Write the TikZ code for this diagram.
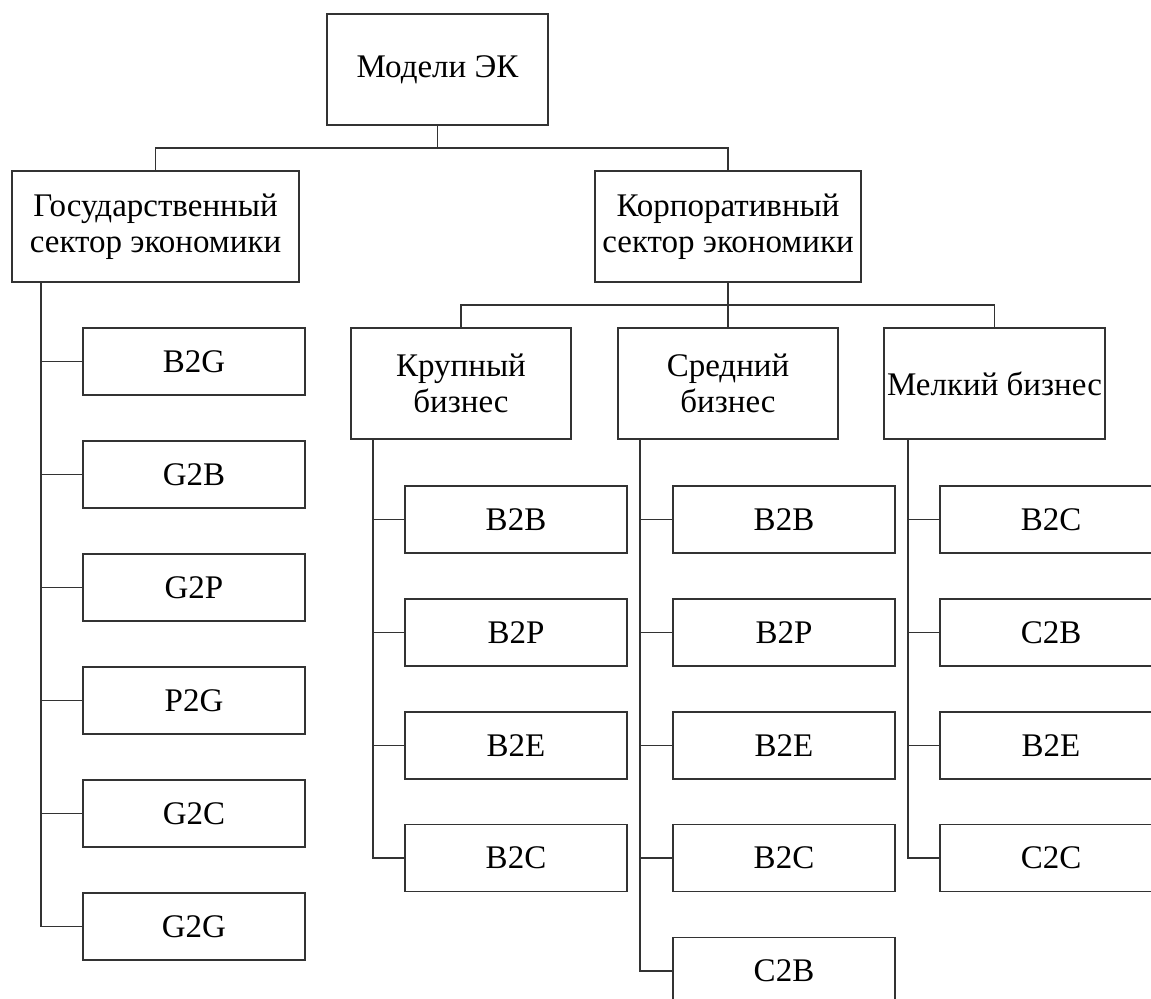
\documentclass[tikz,border=0pt]{standalone}
\usepackage{fontspec}
\setmainfont{Liberation Serif}
\begin{document}
\begin{tikzpicture}[x=0.5pt,y=-0.5pt,
  box/.style={draw=black!80,line width=0.9pt,fill=white,inner sep=0pt,align=center,
    font=\fontsize{16.5pt}{18pt}\selectfont},
  big/.style={box,minimum height=55.5pt},
  leaf/.style={box,minimum width=111pt,minimum height=33.5pt},
  conn/.style={draw=black!80,line width=0.9pt}]
\useasboundingbox (0,0) rectangle (1151,999);
\clip (0,0) rectangle (1151,999);
\fill[white] (0,0) rectangle (1151,999);
% main nodes
\node[big,minimum width=110.5pt] (root) at (437.5,69.5) {Модели ЭК};
\node[big,minimum width=143.5pt] (gov) at (155.5,226.5) {Государственный\\сектор экономики};
\node[big,minimum width=133pt] (corp) at (728,226.5) {Корпоративный\\сектор экономики};
\node[big,minimum width=110pt] (k) at (461,383.5) {Крупный\\бизнес};
\node[big,minimum width=110pt] (s) at (728,383.5) {Средний\\бизнес};
\node[big,minimum width=110.5pt] (m) at (994.5,383.5) {Мелкий бизнес};
% government children
\node[leaf] (g1) at (194,361.5) {B2G};
\node[leaf] (g2) at (194,474.5) {G2B};
\node[leaf] (g3) at (194,587.5) {G2P};
\node[leaf] (g4) at (194,700.5) {P2G};
\node[leaf] (g5) at (194,813.5) {G2C};
\node[leaf] (g6) at (194,926.5) {G2G};
% large business children
\node[leaf] (k1) at (516,519.5) {B2B};
\node[leaf] (k2) at (516,632.5) {B2P};
\node[leaf] (k3) at (516,745.5) {B2E};
\node[leaf] (k4) at (516,858) {B2C};
% medium business children
\node[leaf] (s1) at (784,519.5) {B2B};
\node[leaf] (s2) at (784,632.5) {B2P};
\node[leaf] (s3) at (784,745.5) {B2E};
\node[leaf] (s4) at (784,858) {B2C};
\node[leaf] (s5) at (784,971) {C2B};
% small business children
\node[leaf] (m1) at (1051,519.5) {B2C};
\node[leaf] (m2) at (1051,632.5) {C2B};
\node[leaf] (m3) at (1051,745.5) {B2E};
\node[leaf] (m4) at (1051,858) {C2C};
% connectors top
\coordinate (rb) at (437.5,148);
\draw[conn] (root.south) -- (rb);
\draw[conn] (rb) -| (gov.north);
\draw[conn] (rb) -| (corp.north);
\coordinate (cb) at (728,305);
\draw[conn] (corp.south) -- (cb);
\draw[conn] (cb) -| (k.north);
\draw[conn] (cb) -| (m.north);
\draw[conn] (cb) -- (s.north);
% spines
\coordinate (gs) at (41,282);
\draw[conn] (gs) |- (g6.west);
\foreach \i in {1,...,5} \draw[conn] (g\i.west) -- (g\i.west -| gs);
\coordinate (ks) at (373,439);
\draw[conn] (ks) |- (k4.west);
\foreach \i in {1,...,3} \draw[conn] (k\i.west) -- (k\i.west -| ks);
\coordinate (ss) at (640,439);
\draw[conn] (ss) |- (s5.west);
\foreach \i in {1,...,4} \draw[conn] (s\i.west) -- (s\i.west -| ss);
\coordinate (ms) at (908,439);
\draw[conn] (ms) |- (m4.west);
\foreach \i in {1,...,3} \draw[conn] (m\i.west) -- (m\i.west -| ms);
\end{tikzpicture}
\end{document}
